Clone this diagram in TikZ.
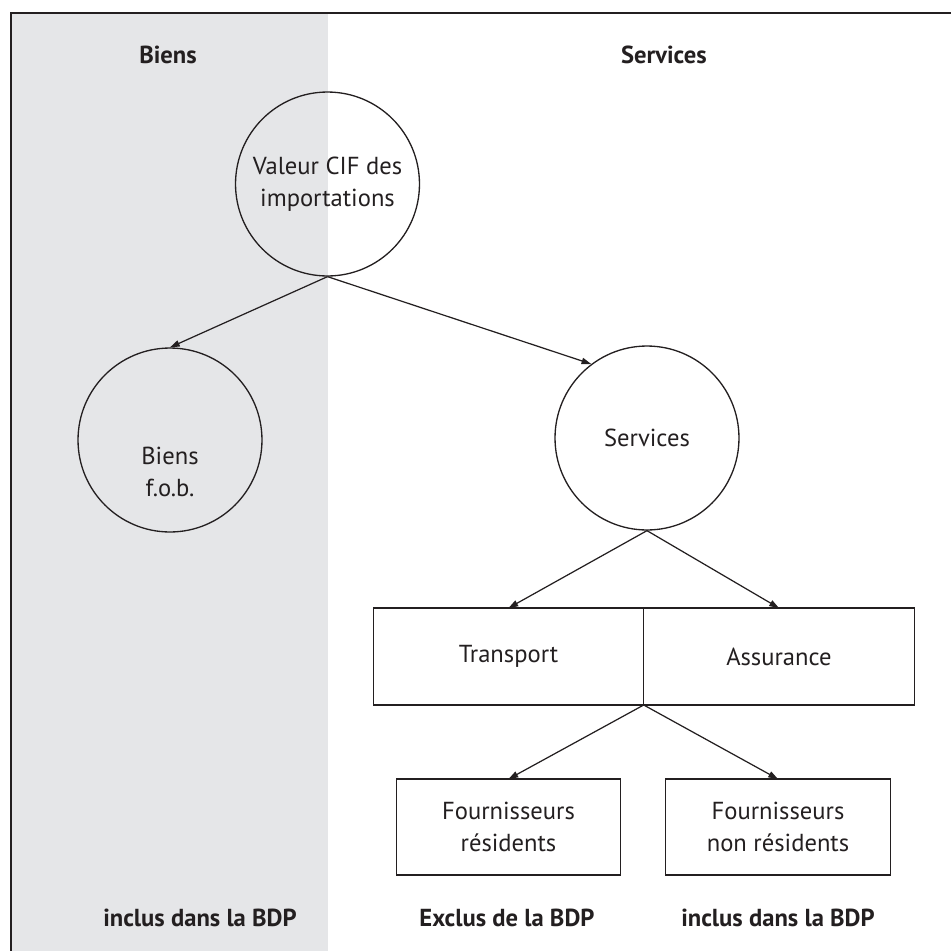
\documentclass[tikz,border=0pt]{standalone}
\usepackage{fontspec}
\setmainfont{PT Sans}
\usepackage{tikz}
\usetikzlibrary{arrows.meta,positioning}

\definecolor{bggray}{RGB}{229,230,232}
\definecolor{ink}{RGB}{35,31,32}

\begin{document}
\begin{tikzpicture}[
    x=0.02cm, y=-0.02cm,
    every node/.style={font=\fontsize{14}{18.2}\selectfont, text=ink},
    circ/.style={circle, draw=ink, line width=0.75pt, minimum size=3.68cm, inner sep=0pt, align=center},
    box/.style={rectangle, draw=ink, line width=0.75pt, outer sep=0pt, align=center},
    bigbox/.style={box, minimum width=5.41cm, minimum height=1.94cm},
    smallbox/.style={box, minimum width=4.49cm, minimum height=1.92cm},
    head/.style={font=\fontsize{14}{18.2}\selectfont\bfseries},
    arr/.style={-{Triangle[length=5.5pt,width=3.6pt]}, line width=0.7pt, draw=ink}
]
    \useasboundingbox (0,0) rectangle (951,951);
    % shaded goods column and frame
    \fill[bggray] (11,13) rectangle (328,951);
    \draw[ink, line width=0.85pt] (11,951) -- (11,13) -- (951,13);

    \node[head] (hbiens) at (168,55) {Biens};
    \node[head] (hserv) at (664,55) {Services};

    \node[circ] (cif) at (327.5,184) {Valeur CIF des\\importations};
    \node[circ] (fob) at (170,440) {};
    \node[align=center] (fobtxt) at (170,472) {Biens\\f.o.b.};
    \node[circ] (svc) at (647,438) {Services};

    \node[bigbox] (trans) at (508.5,656.5) {Transport};
    \node[bigbox, right=0pt of trans] (assur) {Assurance};

    \node[smallbox] (res) at (508.5,827) {Fournisseurs\\résidents};
    \node[smallbox] (nonres) at (778,827) {Fournisseurs\\non résidents};

    \node[head] (lbl1) at (200,918) {inclus dans la BDP};
    \node[head] (lbl2) at (507,918) {Exclus de la BDP};
    \node[head] (lbl3) at (778,918) {inclus dans la BDP};

    \draw [arr] (cif.south) -- (fob.north);
    \draw [arr] (cif.south) -- (svc.127);
    \draw [arr] (svc.south) -- (trans.north);
    \draw [arr] (svc.south) -- (assur.north);
    \draw [arr] (trans.south east) -- (res.north);
    \draw [arr] (trans.south east) -- (nonres.north);
\end{tikzpicture}
\end{document}
